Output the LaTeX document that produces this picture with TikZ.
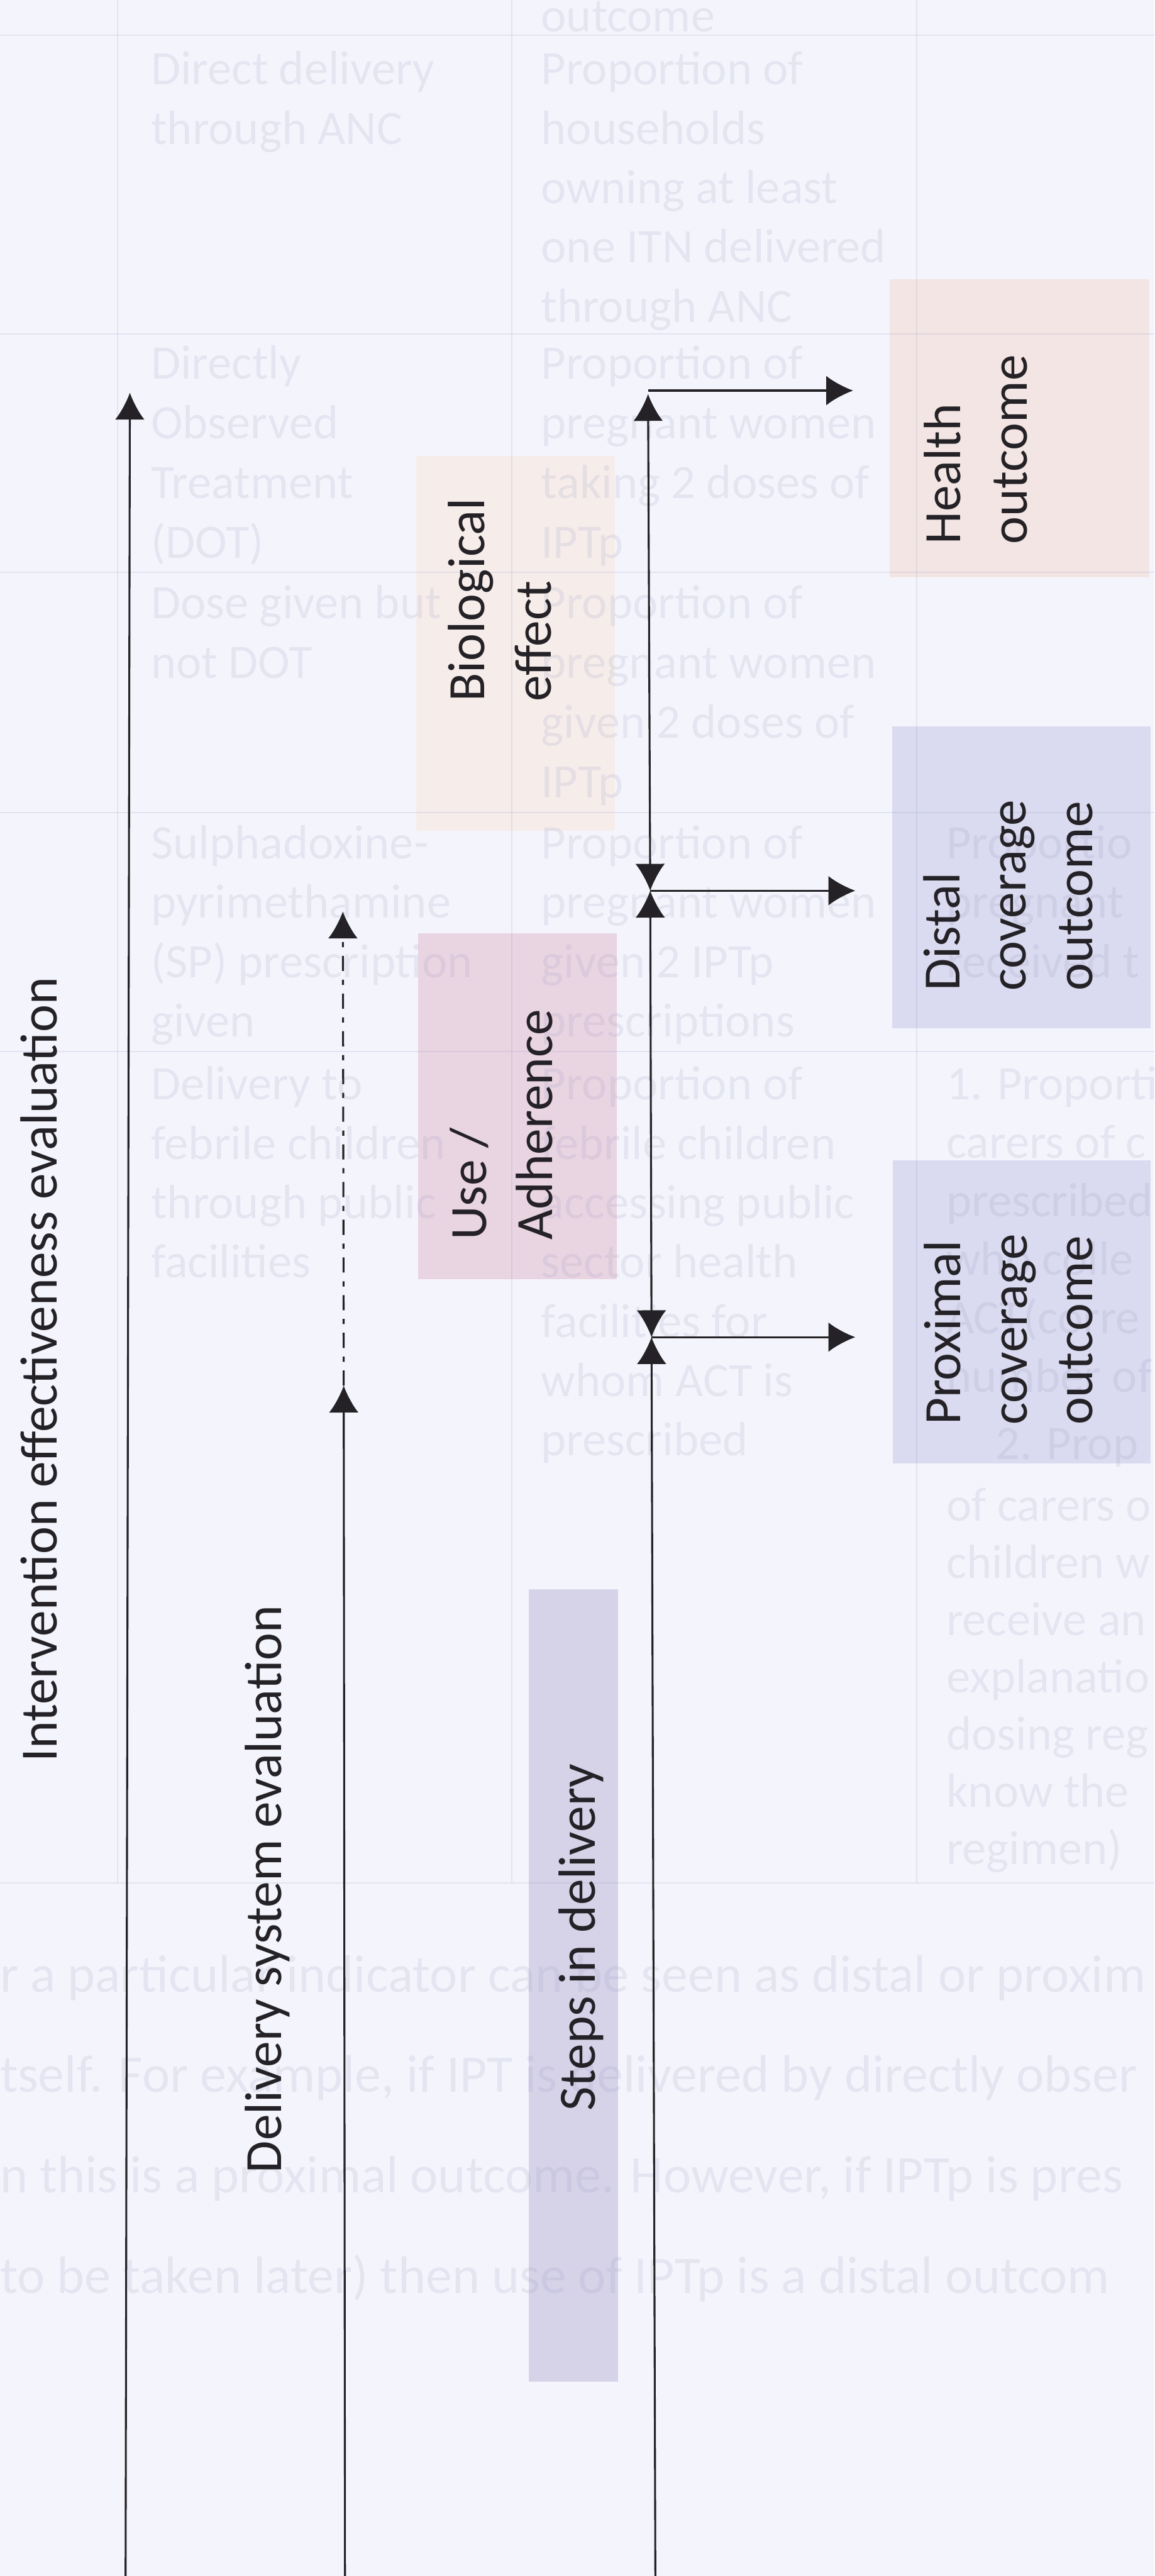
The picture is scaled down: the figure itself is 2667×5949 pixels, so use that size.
\documentclass[tikz,border=0pt]{standalone}
\usepackage{fontspec}
\setmainfont{Carlito}
\usetikzlibrary{arrows.meta,calc}

\definecolor{paper}{RGB}{244,245,252}
\definecolor{ink}{RGB}{36,34,38}
\definecolor{ghostink}{RGB}{150,155,192}
\definecolor{healthfill}{RGB}{243,229,227}
\definecolor{biofill}{RGB}{246,237,235}
\definecolor{usefill}{RGB}{233,212,226}
\definecolor{covfill}{RGB}{218,218,240}
\definecolor{stepfill}{RGB}{214,211,233}

\tikzset{
  mainlabel/.style={rotate=90, anchor=base west, inner sep=0pt, outer sep=0pt,
    text=ink, font=\fontsize{34.4}{43.5}\selectfont},
  ghost/.style={anchor=base west, inner sep=0pt, outer sep=0pt, text=ghostink,
    text opacity=0.17, font=\fontsize{31.6}{39}\selectfont},
  ghostpara/.style={ghost, font=\fontsize{34.7}{43}\selectfont},
  rule/.style={draw=ghostink, draw opacity=0.2, line width=0.03cm},
  shade/.style={draw=none, inner sep=0pt, outer sep=0pt},
  axis/.style={draw=ink, line width=0.045cm},
  arr/.style={axis, -{Latex[length=0.62cm,width=0.68cm]}},
  dblarr/.style={axis, {Latex[length=0.62cm,width=0.68cm]}-{Latex[length=0.62cm,width=0.68cm]}},
  dotarr/.style={arr, dash pattern=on 0.35cm off 0.2cm on 0.12cm off 0.2cm},
}

% place a column of lines, one node per line, first baseline at (#2,#3)
\newcommand\celllines[5]{%
  \foreach \ln [count=\k from 0] in {#5} {%
    \node[ghost] (#1-\k) at (#2, #3+\k*#4) {\ln};
  }%
}

\begin{document}
\begin{tikzpicture}[x=0.01cm, y=-0.01cm]
\useasboundingbox (0,0) rectangle (2667,5949);
\clip (0,0) rectangle (2667,5949);
\fill[paper] (0,0) rectangle (2667,5949);

% ---- shaded stage boxes ----
\node[shade, fill=healthfill, minimum width=6cm,    minimum height=6.88cm] (health)   at (2355,989)    {};
\node[shade, fill=biofill,    minimum width=4.59cm, minimum height=8.66cm] (bio)      at (1190.5,1486) {};
\node[shade, fill=usefill,    minimum width=4.59cm, minimum height=7.99cm] (use)      at (1195.5,2554.5) {};
\node[shade, fill=covfill,    minimum width=5.96cm, minimum height=6.97cm] (distal)   at (2359,2026.5) {};
\node[shade, fill=covfill,    minimum width=5.95cm, minimum height=7.00cm] (proximal) at (2359.5,3030) {};
\node[shade, fill=stepfill,   minimum width=2.05cm, minimum height=18.3cm] (steps)    at (1324.5,4585) {};

% ---- table underneath ----
\foreach \yy in {82,771,1322,1877,2428,4348} \draw[rule] (0,\yy) -- (2667,\yy);
\foreach \xx in {272,1182,2118} \draw[rule] (\xx,0) -- (\xx,4348);

\node[ghost] (hdr) at (1250,74) {outcome};
\celllines{ra1}{349}{196}{137}{Direct delivery,through ANC}
\celllines{ra2}{1250}{196}{137}{Proportion of,households,owning at least,one ITN delivered,through ANC}
\celllines{rb1}{349}{875}{138}{Directly,Observed,Treatment,(DOT)}
\celllines{rb2}{1250}{875}{138}{Proportion of,pregnant women,taking 2 doses of,IPTp}
\celllines{rc1}{349}{1428}{138}{Dose given but,not DOT}
\celllines{rc2}{1250}{1428}{138}{Proportion of,pregnant women,given 2 doses of,IPTp}
\celllines{rd1}{349}{1983}{137}{Sulphadoxine-,pyrimethamine,(SP) prescription,given}
\celllines{rd2}{1250}{1983}{137}{Proportion of,pregnant women,given 2 IPTp,prescriptions}
\celllines{rd3}{2186}{1983}{137}{Proportio,pregnant,received t}
\celllines{re1}{349}{2540}{137}{Delivery to,febrile children,through public,facilities}
\celllines{re2}{1250}{2540}{137}{Proportion of,febrile children,accessing public,sector health,facilities for,whom ACT is,prescribed}
\celllines{re3}{2186}{2540}{135}{1. Proporti,carers of c,prescribed,who colle,ACT(corre,number of}
\node[ghost] (re3-6) at (2300,3370) {2. Prop};
\celllines{re4}{2186}{3513}{132}{of carers o,children w,receive an,explanatio,dosing reg,know the,regimen)}

\node[ghostpara] (p1) at (0,4600) {r a particular indicator can be seen as distal or proxim};
\node[ghostpara] (p2) at (0,4832) {tself. For example, if IPT is delivered by directly obser};
\node[ghostpara] (p3) at (0,5064) {n this is a proximal outcome. However, if IPTp is pres};
\node[ghostpara] (p4) at (0,5296) {to be taken later) then use of IPTp is a distal outcom};

% ---- evaluation axes ----
\coordinate (ietop) at (300,907);
\coordinate (iebot) at (290,6000);
\draw[arr] (iebot) -- (ietop);

\coordinate (dsbot) at (797,6000);
\coordinate (dstip) at (794,3200);
\coordinate (dstop) at (792,2105);
\draw[arr] (dsbot) -- (dstip);
\draw[dotarr] (dstip) -- (dstop);

% ---- delivery chain axis ----
\coordinate (top) at (1497,910);
\coordinate (jd)  at (1502,2057);
\coordinate (jp)  at (1505,3088);
\coordinate (bot) at (1514,6000);
\draw[dblarr] (jd) -- (top);
\draw[dblarr] (jp) -- (jd);
\draw[arr] (bot) -- (jp);
\draw[arr, shorten >=0.84cm] (1497,902) -- (1497,902 -| health.west);
\draw[arr, shorten >=0.85cm] (jd) -- (jd -| distal.west);
\draw[arr, shorten >=0.86cm] (jp) -- (jp -| proximal.west);

% ---- labels ----
\node[mainlabel] (ieval) at (131,4069) {Intervention effectiveness evaluation};
\node[mainlabel] (dseval) at (650,5018) {Delivery system evaluation};
\node[mainlabel] (steps-t) at (1374,4875) {Steps in delivery};
\node[mainlabel] (health-1) at (2219,1257) {Health};
\node[mainlabel] (health-2) at (2372,1257) {outcome};
\node[mainlabel] (bio-1) at (1119,1620) {Biological};
\node[mainlabel] (bio-2) at (1273,1620) {effect};
\node[mainlabel] (use-1) at (1123,2864) {Use /};
\node[mainlabel] (use-2) at (1276,2864) {Adherence};
\node[mainlabel] (distal-1) at (2217,2288) {Distal};
\node[mainlabel] (distal-2) at (2370,2288) {coverage};
\node[mainlabel] (distal-3) at (2523,2288) {outcome};
\node[mainlabel] (prox-1) at (2219,3291) {Proximal};
\node[mainlabel] (prox-2) at (2372,3291) {coverage};
\node[mainlabel] (prox-3) at (2523,3291) {outcome};
\end{tikzpicture}
\end{document}
